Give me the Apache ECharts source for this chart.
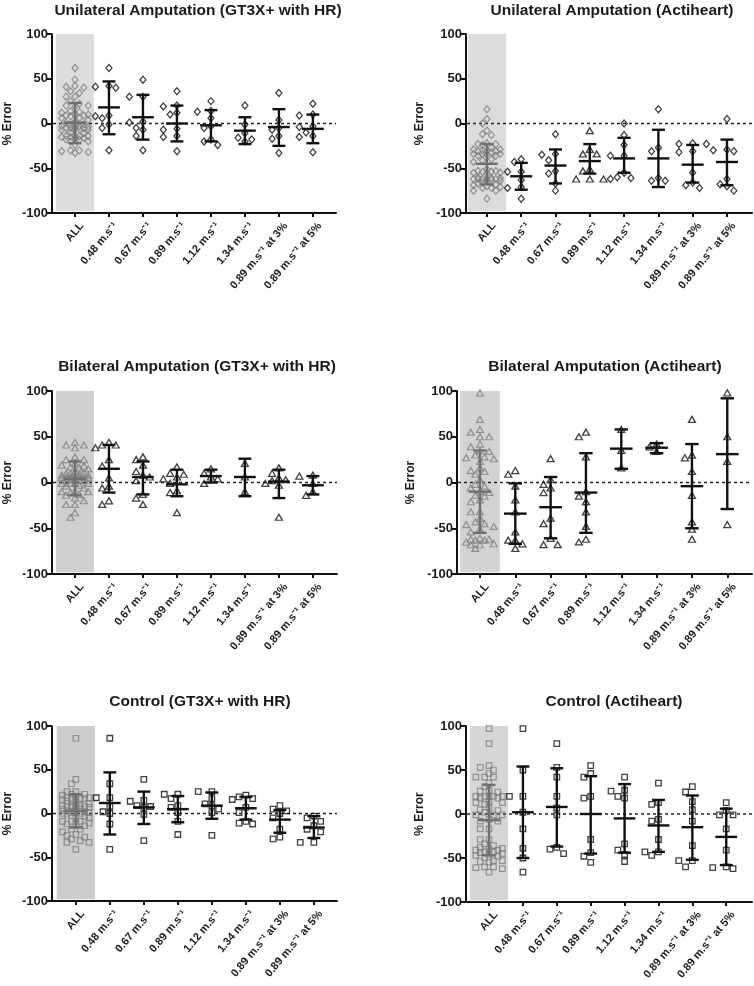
<!DOCTYPE html>
<html><head><meta charset="utf-8">
<script src="https://cdn.jsdelivr.net/npm/echarts@6/dist/echarts.min.js"></script>
<style>html,body{margin:0;padding:0;background:#fff}#c{width:754px;height:986px}</style>
</head><body><div id="c"></div>
<script>
// ---------- DATA ----------
const categories = ['ALL','0.48 m.s⁻¹','0.67 m.s⁻¹','0.89 m.s⁻¹','1.12 m.s⁻¹','1.34 m.s⁻¹','0.89 m.s⁻¹ at 3%','0.89 m.s⁻¹ at 5%'];
const yTicks = [-100,-50,0,50,100];
const panelTitles = ['Unilateral Amputation (GT3X+ with HR)','Unilateral Amputation (Actiheart)','Bilateral Amputation (GT3X+ with HR)','Bilateral Amputation (Actiheart)','Control (GT3X+ with HR)','Control (Actiheart)'];
const yAxisName = '% Error';

// Unilateral GT3X+ (points per speed condition; ALL = pooled)
const uniGT3X_points = [
  [62,42,41,40,9,8,6,-1,-5,-30],
  [49,30,30,2,1,-5,-7,-14,-30],
  [36,20,19,12,10,-6,-7,-14,-15,-31],
  [25,14,13,6,-3,-5,-18,-20,-24],
  [20,-1,-11,-16,-18,-20],
  [34,4,-5,-7,-14,-17,-33],
  [22,10,9,-3,-4,-10,-14,-15,-32]
];
const uniGT3X_mean  = [1,18,7,0,-2,-8,-4,-6];
const uniGT3X_upper = [23,47,32,20,15,7,16,10];
const uniGT3X_lower = [-22,-12,-18,-20,-20,-23,-25,-22];

// Unilateral Actiheart
const uniActi_points = [
  [-40,-43,-54,-54,-63,-71,-72,-84],
  [-12,-34,-35,-41,-53,-56,-67,-75],
  [-8,-29,-34,-34,-51,-53,-62,-62,-62],
  [0,-13,-24,-36,-36,-55,-60,-61,-62],
  [16,-27,-31,-61,-64,-64],
  [-22,-23,-23,-31,-32,-55,-66,-69,-72],
  [5,-29,-30,-31,-62,-68,-70,-75]
];
const uniActi_mean  = [-45,-59,-47,-42,-39,-39,-46,-43];
const uniActi_upper = [-23,-44,-29,-23,-16,-7,-24,-18];
const uniActi_lower = [-68,-74,-67,-56,-55,-71,-66,-69];
const uniActi_triangleCols = [3];

// Bilateral GT3X+
const biGT3X_points = [
  [44,41,41,38,25,18,5,-4,-6,-20,-24],
  [28,25,19,12,8,6,2,-13,-17,-24],
  [17,10,9,6,4,-1,-9,-11,-33],
  [15,10,6,4,-1],
  [21,6,-10],
  [16,10,5,3,2,-1,-3,-38],
  [8,7,-1,-10,-14]
];
const biGT3X_mean  = [4,15,6,-2,7,6,1,-3];
const biGT3X_upper = [23,41,23,14,14,26,14,7];
const biGT3X_lower = [-14,-11,-13,-15,0,-15,-17,-13];

// Bilateral Actiheart
const biActi_points = [
  [13,9,-4,-19,-32,-54,-63,-63,-67,-72],
  [26,3,-2,-6,-11,-39,-45,-61,-68,-68],
  [55,50,28,-10,-15,-21,-32,-48,-62,-65],
  [58,35,16],
  [42,39,34],
  [69,30,27,12,-14,-43,-51,-62],
  [98,50,23,-46]
];
const biActi_mean  = [-10,-34,-27,-11,37,38,-4,31];
const biActi_upper = [35,-1,6,32,58,43,42,92];
const biActi_lower = [-55,-67,-61,-55,15,32,-50,-29];

// Control GT3X+
const ctrlGT3X_points = [
  [86,34,18,18,8,2,0,-12,-41],
  [39,15,14,9,8,7,-1,-31],
  [22,22,17,9,7,1,-9,-24],
  [25,25,17,11,9,5,1,-25],
  [21,19,17,16,7,1,-9,-11,-12],
  [9,5,3,0,-5,-18,-27,-29],
  [-3,-5,-9,-14,-18,-21,-33,-33]
];
const ctrlGT3X_mean  = [3,12,7,5,9,6,-7,-16];
const ctrlGT3X_upper = [22,47,25,20,24,19,4,-3];
const ctrlGT3X_lower = [-16,-24,-12,-10,-6,-7,-22,-28];

// Control Actiheart
const ctrlActi_points = [
  [97,50,20,20,2,-17,-39,-50,-66],
  [80,53,42,20,7,-1,-38,-40,-45],
  [55,46,42,20,18,-29,-44,-48,-55],
  [42,27,26,20,18,-34,-41,-46,-54],
  [35,13,11,-6,-8,-29,-43,-43,-47],
  [31,25,14,5,-8,-36,-53,-53,-60],
  [13,4,-1,-1,-17,-41,-60,-61,-62]
];
const ctrlActi_mean  = [-7,2,8,0,-5,-13,-15,-26];
const ctrlActi_upper = [33,54,52,43,34,16,21,6];
const ctrlActi_lower = [-47,-50,-37,-45,-44,-43,-52,-58];

// shaded "ALL" band: [x0, x1, y0, y1] in axis units
const allBand = [-0.56, 0.56, -98, 100];
const zeroLine = 0;

// ---------- LAYOUT / STYLE ----------
const panels = [
  {pts:uniGT3X_points, mean:uniGT3X_mean, up:uniGT3X_upper, lo:uniGT3X_lower, sym:'diamond', tri:[],
   grid:{left:52,top:34,width:284,height:179}, xr:[-0.676,7.68], tx:193, ty:-2, shade:'#dcdcdc'},
  {pts:uniActi_points, mean:uniActi_mean, up:uniActi_upper, lo:uniActi_lower, sym:'diamond', tri:uniActi_triangleCols,
   grid:{left:466,top:34,width:286,height:179}, xr:[-0.61,7.73], tx:607, ty:-2, shade:'#dcdcdc'},
  {pts:biGT3X_points, mean:biGT3X_mean, up:biGT3X_upper, lo:biGT3X_lower, sym:'triangle', tri:[],
   grid:{left:52,top:391,width:285,height:183}, xr:[-0.676,7.71], tx:192, ty:354, shade:'#cfcfcf'},
  {pts:biActi_points, mean:biActi_mean, up:biActi_upper, lo:biActi_lower, sym:'triangle', tri:[],
   grid:{left:457,top:391,width:295,height:183}, xr:[-0.65,7.7], tx:600, ty:354, shade:'#d3d3d3'},
  {pts:ctrlGT3X_points, mean:ctrlGT3X_mean, up:ctrlGT3X_upper, lo:ctrlGT3X_lower, sym:'rect', tri:[],
   grid:{left:52,top:726,width:285,height:175}, xr:[-0.70,7.68], tx:195, ty:689, shade:'#cdcdcd'},
  {pts:ctrlActi_points, mean:ctrlActi_mean, up:ctrlActi_upper, lo:ctrlActi_lower, sym:'rect', tri:[],
   grid:{left:466,top:726,width:286,height:176}, xr:[-0.68,7.76], tx:609, ty:689, shade:'#d6d6d6'}
];
const FONT = '"Liberation Sans", Arial, sans-serif';
const symSize = {diamond:[6,7], triangle:[7,6], rect:[5.5,5.5]};

function swarm(vals, cx, o) {
  const sorted = vals.slice().sort((a,b)=>b-a);
  const placed = [];
  for (const v of sorted) {
    let best = 0, bestScore = -Infinity, done = false;
    for (let k=0; k<=o.maxK && !done; k++) {
      const cands = k===0 ? [0] : [-k*o.step, k*o.step];
      for (const off of cands) {
        let minD = Infinity;
        for (const p of placed) {
          const dx=(p[0]-off)*o.xpx, dy=(p[1]-v)*o.ypx;
          minD = Math.min(minD, Math.hypot(dx,dy));
        }
        if (minD >= o.size) { best = off; done = true; break; }
        if (minD > bestScore) { bestScore = minD; best = off; }
      }
    }
    placed.push([best, v]);
  }
  return placed.map(p=>[cx+p[0], p[1]]);
}

const option = {animation:false, backgroundColor:'#fff', title:[], grid:[], xAxis:[], yAxis:[], series:[]};

panels.forEach((P, i) => {
  option.title.push({text:panelTitles[i], left:P.tx, top:P.ty, textAlign:'center',
    textStyle:{fontFamily:FONT, fontWeight:'bold', fontSize:15.5, color:'#1a1a1a'}});
  option.grid.push(Object.assign({containLabel:false}, P.grid));
  const xpx = P.grid.width/(P.xr[1]-P.xr[0]);
  const ypx = P.grid.height/200;
  option.xAxis.push({gridIndex:i, type:'value', min:P.xr[0], max:P.xr[1], position:'bottom',
    splitLine:{show:false},
    axisLine:{show:true, onZero:false, lineStyle:{color:'#111', width:2}},
    axisTick:{show:true, customValues:[0,1,2,3,4,5,6,7], length:4, lineStyle:{color:'#111', width:2}},
    axisLabel:{show:true, customValues:[0.2,1.2,2.2,3.2,4.2,5.2,6.2,7.2], rotate:50, margin:11,
      formatter:v=>categories[Math.round(v-0.2)], fontFamily:FONT, fontWeight:'bold', fontSize:11, color:'#1a1a1a'}});
  option.yAxis.push({gridIndex:i, type:'value', min:-100, max:100, interval:50, position:'left',
    splitLine:{show:false},
    axisLine:{show:true, onZero:false, lineStyle:{color:'#111', width:2}},
    axisTick:{show:true, length:5, lineStyle:{color:'#111', width:2}},
    axisLabel:{fontFamily:FONT, fontWeight:'bold', fontSize:13, color:'#1a1a1a', margin:4,
      formatter:v=>yTicks.includes(v)?String(v):''},
    name:yAxisName, nameLocation:'middle', nameGap:(i%2===0?38:40), nameRotate:90,
    nameTextStyle:{fontFamily:FONT, fontWeight:'bold', fontSize:12, color:'#1a1a1a'}});

  // shaded ALL band
  option.series.push({type:'custom', xAxisIndex:i, yAxisIndex:i, z:1, silent:true,
    data:[allBand], encode:{x:[0,1], y:[2,3]},
    renderItem:(params, api) => {
      const a = api.coord([api.value(0), api.value(3)]);
      const b = api.coord([api.value(1), api.value(2)]);
      return {type:'rect', shape:{x:a[0], y:a[1], width:b[0]-a[0], height:b[1]-a[1]},
        style:{fill:P.shade}};
    }});

  // zero reference line (dotted)
  option.series.push({type:'custom', xAxisIndex:i, yAxisIndex:i, z:2, silent:true,
    data:[[P.xr[0], P.xr[1], zeroLine]], encode:{x:[0,1], y:2},
    renderItem:(params, api) => {
      const a = api.coord([api.value(0), api.value(2)]);
      const b = api.coord([api.value(1), api.value(2)]);
      return {type:'line', shape:{x1:a[0]+1, y1:a[1], x2:b[0], y2:b[1]},
        style:{stroke:'#222', lineWidth:1.5, lineDash:[3,3]}};
    }});

  // pooled ALL column
  const all = [].concat(...P.pts);
  const allPts = swarm(all, 0, {step:0.13, maxK:3, xpx, ypx, size:5.5});
  option.series.push({type:'scatter', xAxisIndex:i, yAxisIndex:i, z:3, data:allPts,
    symbol:P.sym, symbolSize:symSize[P.sym],
    itemStyle:{color:'rgba(0,0,0,0)', borderColor:'#7d7d7d', borderWidth:1.2}});

  // individual speed columns
  const data = [];
  P.pts.forEach((vals, k) => {
    const sym = P.tri.includes(k+1) ? 'triangle' : P.sym;
    swarm(vals, k+1, {step:0.2, maxK:2, xpx, ypx, size:7}).forEach(p => {
      data.push({value:p, symbol:sym, symbolSize:symSize[sym]});
    });
  });
  option.series.push({type:'scatter', xAxisIndex:i, yAxisIndex:i, z:3, data,
    itemStyle:{color:'rgba(0,0,0,0)', borderColor:'#111', borderWidth:1.3}});

  // mean +/- SD bars
  const bars = P.mean.map((m,k)=>[k, m, P.lo[k], P.up[k], k===0?1:0]);
  option.series.push({type:'custom', xAxisIndex:i, yAxisIndex:i, z:4, silent:true, data:bars,
    encode:{x:0, y:[1,2,3]},
    renderItem:(params, api) => {
      const x=api.value(0), m=api.value(1), lo=api.value(2), hi=api.value(3);
      const color = api.value(4) ? '#6f6f6f' : '#111';
      const c=(a,b)=>api.coord([a,b]);
      const style={stroke:color, lineWidth:2.4};
      const L=(p,q)=>({type:'line', shape:{x1:p[0],y1:p[1],x2:q[0],y2:q[1]}, style});
      return {type:'group', children:[
        L(c(x,hi), c(x,lo)),
        L(c(x-0.32,m), c(x+0.32,m)),
        L(c(x-0.19,hi), c(x+0.19,hi)),
        L(c(x-0.19,lo), c(x+0.19,lo))
      ]};
    }});
});

const chart = echarts.init(document.getElementById('c'), null, {renderer:'canvas'});
chart.setOption(option);
</script></body></html>
